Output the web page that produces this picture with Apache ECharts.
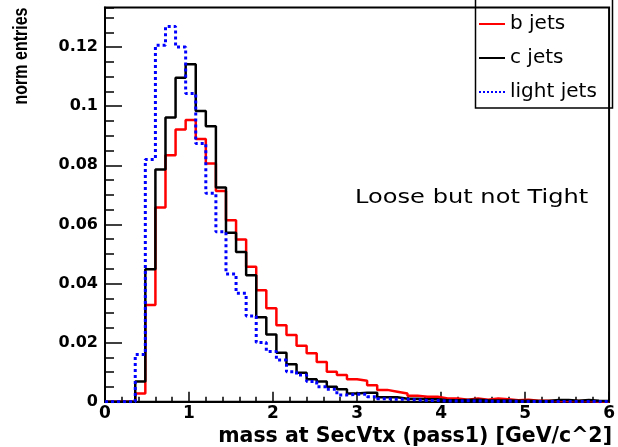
<!DOCTYPE html>
<html>
<head>
<meta charset="utf-8">
<script src="https://cdn.jsdelivr.net/npm/echarts@6/dist/echarts.min.js"></script>
<style>
  html, body { margin: 0; padding: 0; background: #fff; }
  #chart { width: 618px; height: 447px; }
</style>
</head>
<body>
<div id="chart"></div>
<script>
// Histogram binning: 50 bins of 0.12 GeV/c^2 between 0 and 6
const xMin = 0;
const xMax = 6;
const binWidth = 0.12;

// Normalised entries per bin for each jet flavour
const bJets = [
  0, 0, 0, 0.0028, 0.0327, 0.0657, 0.0834, 0.0921, 0.0953, 0.0889,
  0.0806, 0.0713, 0.0614, 0.0549, 0.0457, 0.0377, 0.0316, 0.0259, 0.0226, 0.0189,
  0.0164, 0.0134, 0.0101, 0.0090, 0.0076, 0.0071, 0.0056, 0.0040, 0.0034, 0.0028,
  0.0020, 0.0017, 0.0017, 0.0011, 0.0011, 0.0007, 0.0011, 0.0007, 0.0011, 0.0008,
  0.0005, 0.0007, 0.0003, 0.0003, 0.0002, 0.0002, 0.0002, 0.0002, 0.0001, 0.0001
];
const cJets = [
  0, 0, 0, 0.0068, 0.0448, 0.0786, 0.0962, 0.1096, 0.1142, 0.0984,
  0.0932, 0.0725, 0.0572, 0.0507, 0.0428, 0.0286, 0.0227, 0.0166, 0.0127, 0.0098,
  0.0076, 0.0068, 0.0051, 0.0042, 0.0028, 0.0030, 0.0030, 0.0015, 0.0015, 0.0010,
  0.0010, 0.0008, 0.0008, 0.0005, 0.0005, 0.0006, 0.0007, 0.0005, 0.0004, 0.0004,
  0.0003, 0.0003, 0.0002, 0.0002, 0.0006, 0.0006, 0.0003, 0.0006, 0.0003, 0.0002
];
const lightJets = [
  0, 0, 0, 0.0160, 0.0820, 0.1206, 0.1270, 0.1200, 0.1043, 0.0874,
  0.0705, 0.0575, 0.0432, 0.0367, 0.0290, 0.0200, 0.0170, 0.0141, 0.0101, 0.0090,
  0.0068, 0.0051, 0.0042, 0.0023, 0.0025, 0.0025, 0.0017, 0.0010, 0.0008, 0.0008,
  0.0006, 0.0004, 0.0004, 0.0002, 0.0002, 0.0003, 0.0002, 0.0002, 0.0001, 0.0002,
  0.0001, 0.0001, 0.0001, 0.0001, 0.0001, 0.0001, 0.0001, 0.0001, 0.0000, 0.0001
];

const seriesNames = ['b jets', 'c jets', 'light jets'];
const yMax = 0.1334;
const yMajorStep = 0.02;
const yMinorStep = 0.005;
const xMajorStep = 1;

// Turn bin contents into step-line points at the lower bin edges
function histPoints(values) {
  const pts = values.map((v, i) => [+(xMin + i * binWidth).toFixed(4), v]);
  pts.push([xMax, values[values.length - 1]]);
  return pts;
}

const chart = echarts.init(document.getElementById('chart'), null, { renderer: 'canvas' });

const gridBox = { left: 105, top: 7.5, width: 505.5, height: 394.2 };

const option = {
  backgroundColor: '#fff',
  animation: false,
  grid: {
    left: gridBox.left, top: gridBox.top, width: gridBox.width, height: gridBox.height,
    show: true, borderColor: '#000', borderWidth: 2, backgroundColor: 'transparent'
  },
  xAxis: {
    type: 'value', min: xMin, max: xMax, interval: xMajorStep,
    axisLine: { show: true, onZero: false, lineStyle: { color: '#000', width: 2 } },
    axisTick: { show: true, inside: true, length: 10, lineStyle: { color: '#000', width: 1.5 } },
    minorTick: { show: true, splitNumber: 5, length: 5, lineStyle: { color: '#000', width: 1.5 } },
    splitLine: { show: false },
    axisLabel: {
      color: '#000', fontFamily: 'DejaVu Sans', fontWeight: 'bold', fontSize: 17, margin: 3
    }
  },
  yAxis: [
    {
      type: 'value', min: 0, max: yMax, interval: yMajorStep,
      axisLine: { show: true, lineStyle: { color: '#000', width: 2 } },
      axisTick: { show: true, inside: true, length: 17, lineStyle: { color: '#000', width: 1.5 } },
      splitLine: { show: false },
      axisLabel: {
        color: '#000', fontFamily: 'DejaVu Sans', fontWeight: 'bold', fontSize: 16, margin: 7,
        showMaxLabel: false
      }
    },
    {
      type: 'value', min: 0, max: yMax, interval: yMinorStep, position: 'left',
      axisLine: { show: false },
      axisTick: { show: true, inside: true, length: 9, lineStyle: { color: '#000', width: 1.5 } },
      splitLine: { show: false },
      axisLabel: { show: false }
    }
  ],
  legend: {
    orient: 'vertical', left: 478, top: 14, padding: 0,
    itemWidth: 26, itemHeight: 14, itemGap: 14,
    itemStyle: { opacity: 0 },
    textStyle: { fontFamily: 'DejaVu Sans', fontSize: 20, color: '#000', lineHeight: 20 },
    data: seriesNames
  },
  series: [
    {
      name: seriesNames[0], type: 'line', step: 'end', symbol: 'none',
      data: histPoints(bJets),
      lineStyle: { color: '#ff0000', width: 2.5 }, itemStyle: { color: '#ff0000' }
    },
    {
      name: seriesNames[1], type: 'line', step: 'end', symbol: 'none',
      data: histPoints(cJets),
      lineStyle: { color: '#000000', width: 2.5 }, itemStyle: { color: '#000000' }
    },
    {
      name: seriesNames[2], type: 'line', step: 'end', symbol: 'none',
      data: histPoints(lightJets),
      lineStyle: { color: '#0000ff', width: 3, type: 'dotted' }, itemStyle: { color: '#0000ff' }
    }
  ],
  graphic: [
    {
      type: 'rect', shape: { x: 475.5, y: -2, width: 137, height: 110 },
      style: { fill: 'none', stroke: '#000', lineWidth: 1.5 }, z: 10
    },
    {
      type: 'text', x: 355, y: 198, scaleX: 1.27,
      style: {
        text: 'Loose but not Tight', fill: '#000',
        font: '19px "DejaVu Sans"', textAlign: 'left', textVerticalAlign: 'middle'
      }
    },
    {
      type: 'text', x: 21, y: 56, rotation: Math.PI / 2, scaleY: 1.25,
      style: {
        text: 'norm entries', fill: '#000',
        font: 'bold 16px "Liberation Sans"', textAlign: 'center', textVerticalAlign: 'middle'
      }
    },
    {
      type: 'text', x: 612, y: 437,
      style: {
        text: 'mass at SecVtx (pass1) [GeV/c^2]', fill: '#000',
        font: 'bold 20.5px "DejaVu Sans"', textAlign: 'right', textVerticalAlign: 'middle'
      }
    }
  ]
};

chart.setOption(option);
</script>
</body>
</html>
